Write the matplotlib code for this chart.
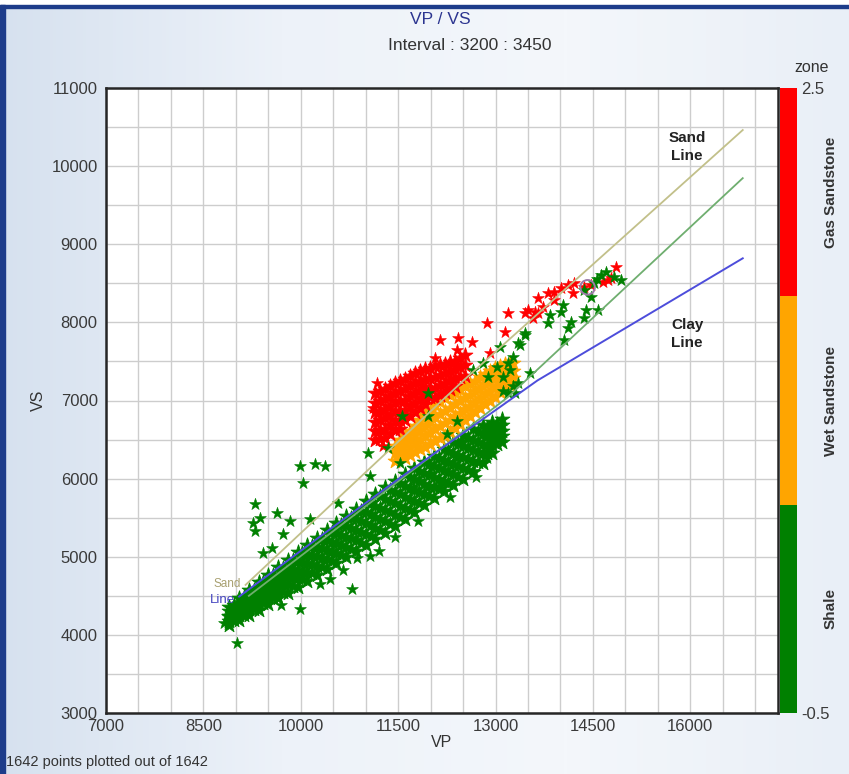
import numpy as np
import matplotlib
matplotlib.use("Agg")
import matplotlib.pyplot as plt
from matplotlib.colors import ListedColormap, BoundaryNorm, LinearSegmentedColormap
from matplotlib.patches import Rectangle
import matplotlib.colorbar as mcolorbar

plt.rcParams['font.family'] = ['Liberation Sans', 'DejaVu Sans']

# ---------------- data ----------------
x_ticks = [7000, 8500, 10000, 11500, 13000, 14500, 16000]
y_ticks = [3000, 4000, 5000, 6000, 7000, 8000, 9000, 10000, 11000]

# Shale (zone 0) dense band: VP column -> VS values
shale_band = {
    8900: [4122, 4182, 4242, 4302, 4362],
    8975: [4188, 4253, 4318, 4383],
    9050: [4187, 4257, 4327, 4397, 4467],
    9125: [4257, 4332, 4407, 4482],
    9200: [4252, 4332, 4412, 4492, 4572],
    9275: [4328, 4412, 4496, 4580],
    9350: [4321, 4408, 4496, 4584, 4671],
    9425: [4402, 4494, 4585, 4676],
    9500: [4391, 4486, 4581, 4676, 4771],
    9575: [4478, 4575, 4673, 4770],
    9650: [4466, 4566, 4666, 4766, 4866],
    9725: [4554, 4657, 4759, 4862],
    9800: [4541, 4646, 4751, 4856, 4961],
    9875: [4632, 4739, 4847, 4954],
    9950: [4615, 4725, 4835, 4945, 5055],
    10025: [4709, 4822, 4934, 5047],
    10100: [4690, 4805, 4920, 5035, 5150],
    10175: [4787, 4904, 5022, 5139],
    10250: [4765, 4885, 5005, 5125, 5245],
    10325: [4863, 4986, 5108, 5231],
    10400: [4840, 4965, 5090, 5215, 5340],
    10475: [4943, 5069, 5195, 5321],
    10550: [4919, 5047, 5174, 5302, 5429],
    10625: [5023, 5152, 5282, 5411],
    10700: [4999, 5129, 5259, 5389, 5519],
    10775: [5103, 5236, 5368, 5501],
    10850: [5074, 5209, 5344, 5479, 5614],
    10925: [5180, 5317, 5455, 5592],
    11000: [5149, 5289, 5429, 5569, 5709],
    11075: [5260, 5401, 5542, 5683],
    11150: [5228, 5371, 5513, 5656, 5798],
    11225: [5340, 5484, 5628, 5772],
    11300: [5308, 5453, 5598, 5743, 5888],
    11375: [5423, 5568, 5714, 5859],
    11450: [5393, 5538, 5683, 5828, 5973],
    11525: [5509, 5653, 5797, 5941],
    11600: [5483, 5626, 5768, 5911, 6053],
    11675: [5599, 5740, 5881, 6022],
    11750: [5572, 5712, 5852, 5992, 6132],
    11825: [5687, 5826, 5965, 6104],
    11900: [5662, 5800, 5937, 6075, 6212],
    11975: [5776, 5912, 6048, 6184],
    12050: [5752, 5887, 6022, 6157, 6292],
    12125: [5862, 5997, 6132, 6267],
    12200: [5837, 5972, 6107, 6242, 6377],
    12275: [5945, 6081, 6217, 6353],
    12350: [5916, 6054, 6191, 6329, 6466],
    12425: [6026, 6165, 6304, 6443],
    12500: [5996, 6136, 6276, 6416, 6556],
    12575: [6113, 6250, 6388, 6525],
    12650: [6091, 6226, 6361, 6496, 6631],
    12725: [6212, 6339, 6467, 6594],
    12800: [6206, 6326, 6446, 6566, 6686],
    12875: [6323, 6433, 6543, 6653],
    12950: [6330, 6430, 6530, 6630, 6730],
    13025: [6442, 6529, 6617, 6704],
    13100: [6465, 6540, 6615, 6690, 6765],
}
shale_vp = [9991, 10223, 10377, 10038, 9298, 9637, 9375, 9267, 9298, 9837, 10146, 9729,
            9560, 9421, 10577, 11040, 11071, 10870, 11071, 10793, 9991, 8881, 9020,
            11533, 11348, 11965, 11965, 11564, 12412, 12659, 12813, 13075, 13338, 13461,
            13029, 12890, 13230, 13261, 13184, 12921, 12967, 12875, 12644, 12659, 12412,
            12490, 12258, 11996, 12150, 11919, 11733,
            14617, 14818, 14926, 14510, 14355, 14463, 14032, 14001, 13846, 13800, 14155,
            14386, 14571, 14355, 14109, 14047, 13461, 13384, 13276, 13199, 13122, 13538,
            13353, 13307, 13122, 14700, 14560, 8820, 8860,
            10300, 10650, 11200, 11450, 11800, 12300, 12700, 10450, 9700]
shale_vs = [6167, 6193, 6167, 5949, 5680, 5564, 5500, 5436, 5334, 5462, 5487, 5295,
            5116, 5052, 5693, 6334, 6039, 4987, 5013, 4590, 4334, 4141, 3898,
            6205, 6398, 7090, 6808, 6808, 6744, 7385, 7474, 7680, 7731, 7859,
            7423, 7295, 7385, 7192, 7090, 6654, 6487, 6269, 6231, 6103, 6269,
            6487, 6577, 6077, 5910, 5808, 5885,
            8603, 8577, 8539, 8500, 8410, 8321, 8218, 8128, 8090, 7987, 8000,
            8154, 8154, 8051, 7923, 7769, 7833, 7705, 7551, 7474, 7295, 7346,
            7218, 7090, 7128, 8640, 8560, 4150, 4240,
            4650, 4830, 5080, 5250, 5460, 5760, 6020, 4720, 4380]

# Wet Sandstone (zone 1) cloud: VP column -> VS values
wet_cloud = {
    11456: [6420, 6330, 6230],
    11533: [6490, 6390, 6290],
    11611: [6550, 6450, 6350, 6260],
    11688: [6610, 6505, 6400, 6300],
    11765: [6680, 6570, 6450, 6340],
    11842: [6745, 6625, 6495, 6375],
    11919: [6810, 6680, 6540, 6410],
    11996: [6870, 6730, 6585, 6445],
    12073: [6940, 6790, 6630, 6480],
    12150: [6985, 6830, 6670, 6515],
    12228: [7030, 6870, 6710, 6550],
    12305: [7065, 6910, 6755, 6600],
    12382: [7100, 6950, 6800, 6650],
    12459: [7140, 6990, 6845, 6700],
    12536: [7180, 7030, 6890, 6750],
    12613: [7215, 7075, 6935, 6800],
    12690: [7250, 7120, 6980, 6850],
    12767: [7295, 7165, 7030, 6900],
    12844: [7340, 7210, 7080, 6950],
    12921: [7375, 7250, 7125, 7000],
    12998: [7410, 7290, 7170, 7050],
    13075: [7440, 7330, 7220, 7110],
    13153: [7470, 7370, 7270, 7170],
    13215: [7475, 7375, 7280, 7200],
    13276: [7480, 7380, 7290],
}

# Gas Sandstone (zone 2) cloud: VP column -> VS values
gas_cloud = {
    11148: [7090, 6970, 6850, 6730, 6610, 6490],
    11225: [7120, 6995, 6870, 6750, 6625, 6505],
    11302: [7150, 7020, 6890, 6770, 6640, 6520],
    11379: [7185, 7060, 6935, 6815, 6690, 6570],
    11456: [7220, 7100, 6980, 6860, 6740, 6620],
    11533: [7250, 7125, 6995, 6870, 6745, 6640],
    11611: [7280, 7150, 7010, 6880, 6750],
    11688: [7315, 7185, 7055, 6925, 6800],
    11765: [7350, 7220, 7100, 6970, 6850],
    11842: [7375, 7250, 7135, 7015, 6900],
    11919: [7400, 7280, 7170, 7060, 6950],
    11996: [7420, 7290, 7165, 7045],
    12073: [7440, 7300, 7160, 7030],
    12150: [7455, 7325, 7195, 7070],
    12228: [7470, 7350, 7230, 7110],
    12305: [7490, 7375, 7260, 7150],
    12382: [7510, 7400, 7290, 7190],
    12459: [7545, 7425, 7305],
    12536: [7580, 7450, 7320],
}
gas_vp = [12073, 12412, 12644, 12875, 13153, 13184, 13461, 13646, 13723, 12150, 12428, 12921,
          13492, 13615, 13661, 13800, 13893, 14001, 14109, 14201, 14186, 14355, 14463,
          14648, 14725, 14849, 14772, 13893, 13584, 11110, 11180, 11260]
gas_vs = [7539, 7641, 7744, 7987, 7872, 8115, 8115, 8115, 8192, 7769, 7795, 7603,
          8154, 8128, 8308, 8372, 8385, 8436, 8474, 8500, 8372, 8449, 8474,
          8513, 8539, 8705, 8564, 8282, 8051, 6900, 7230, 6420]

# highlighted (circled) sample
sel_vp, sel_vs = [14417], [8449]

# trend lines
sand_vp = [9150, 12505, 16807]
sand_vs = [4640, 7256, 10462]
wet_vp = [9200, 13184, 16807]
wet_vs = [4500, 7039, 9846]
clay_vp = [9050, 10250, 11533, 13646, 16807]
clay_vs = [4490, 5230, 6013, 7257, 8820]

zone_colors = ['#008000', '#ffa500', '#ff0000']
zone_names = ['Shale', 'Wet Sandstone', 'Gas Sandstone']


def expand(cols):
    xs, ys = [], []
    for vp, vss in cols.items():
        for v in vss:
            xs.append(vp)
            ys.append(v)
    return xs, ys


# ---------------- figure ----------------
W, H = 849, 774
fig = plt.figure(figsize=(W / 100, H / 100), dpi=100)

bg = fig.add_axes([0, 0, 1, 1], zorder=-10)
bg.axis('off')
gcm = LinearSegmentedColormap.from_list('bg', ['#d6e1ef', '#edf2f9', '#f4f7fb', '#e9eff7'])
bg.imshow(np.linspace(0, 1, 256)[None, :], aspect='auto', cmap=gcm, extent=[0, 1, 0, 1])
bg.set_xlim(0, 1)
bg.set_ylim(0, 1)
bg.add_patch(Rectangle((0, 1 - 5 / H), 1, 5 / H, color='white'))
bg.add_patch(Rectangle((0, 1 - 8 / H), 1, 3 / H, color='#1d3c8a'))
bg.add_patch(Rectangle((0, 0), 5 / W, 1 - 5 / H, color='#1d3c8a'))

ax = fig.add_axes([106 / W, 61 / H, 672 / W, 625 / H])
ax.set_facecolor('white')
ax.set_xlim(7000, 17350)
ax.set_ylim(3000, 11000)
ax.set_xticks(x_ticks)
ax.set_yticks(y_ticks)
ax.set_xticks(np.arange(7000, 17350, 500), minor=True)
ax.set_yticks(np.arange(3000, 11001, 500), minor=True)
ax.grid(which='both', color='#cdcdcd', lw=1.0)
ax.set_axisbelow(True)
ax.tick_params(which='both', length=0)
ax.tick_params(axis='both', labelsize=12, colors='#3a3a3a')
ax.tick_params(axis='x', pad=4)
ax.tick_params(axis='y', pad=6)
for sp in ax.spines.values():
    sp.set_linewidth(1.8)
    sp.set_color('#262626')

bx, by = expand(shale_band)
ax.scatter(bx, by, marker='*', s=125, color=zone_colors[0], linewidths=0.6, zorder=2)
wx, wy = expand(wet_cloud)
ax.scatter(wx, wy, marker='*', s=125, color=zone_colors[1], linewidths=0.6, zorder=3)
gx, gy = expand(gas_cloud)
ax.scatter(gx, gy, marker='*', s=125, color=zone_colors[2], linewidths=0.6, zorder=3)
ax.scatter(gas_vp, gas_vs, marker='*', s=80, color=zone_colors[2], linewidths=0.4, zorder=3)
ax.scatter(shale_vp, shale_vs, marker='*', s=80, color=zone_colors[0], linewidths=0.4, zorder=4)
ax.scatter(sel_vp, sel_vs, marker='o', s=110, facecolors='none', edgecolors='#9c7aa8',
           linewidths=1.4, zorder=6)

ax.plot(sand_vp, sand_vs, color='#c2c08a', lw=1.3, zorder=5)
ax.plot(wet_vp, wet_vs, color='#6fae6f', lw=1.3, zorder=5)
ax.plot(clay_vp, clay_vs, color='#4d4ddb', lw=1.4, zorder=5)

ax.text(8660, 4650, 'Sand', color='#a8a070', fontsize=8.5, ha='left', va='center', zorder=1)
ax.text(8600, 4450, 'Line', color='#4545c0', fontsize=9.5, ha='left', va='center', zorder=6)
ax.text(15950, 10240, 'Sand\nLine', fontsize=11, fontweight='bold', color='#222222',
        ha='center', va='center', linespacing=1.35, zorder=6)
ax.text(15950, 7850, 'Clay\nLine', fontsize=11, fontweight='bold', color='#222222',
        ha='center', va='center', linespacing=1.35, zorder=6)

ax.set_xlabel('VP', fontsize=11.5, color='#333333', labelpad=1)
ax.set_ylabel('VS', fontsize=11.5, color='#333333', labelpad=4)

fig.text(440 / W, 1 - 19 / H, 'VP / VS', ha='center', va='center', fontsize=12.5, color='#2c3590')
fig.text(470 / W, 1 - 46 / H, 'Interval : 3200 : 3450', ha='center', va='center',
         fontsize=12.5, color='#333333')
fig.text(812 / W, 1 - 68 / H, 'zone', ha='center', va='center', fontsize=11.5, color='#333333')
fig.text(6 / W, 1 - 762 / H, '1642 points plotted out of 1642', ha='left', va='center',
         fontsize=10.5, color='#333333')

# colorbar
cax = fig.add_axes([780 / W, 61 / H, 17 / W, 625 / H])
cmap = ListedColormap(zone_colors)
norm = BoundaryNorm([-0.5, 0.5, 1.5, 2.5], cmap.N)
cb = mcolorbar.ColorbarBase(cax, cmap=cmap, norm=norm, orientation='vertical')
cb.outline.set_visible(False)
cb.set_ticks([-0.5, 2.5])
cb.set_ticklabels(['-0.5', '2.5'])
cax.minorticks_off()
cax.tick_params(which='both', length=0, labelsize=12, colors='#3a3a3a', pad=3)
for val, name in zip([0, 1, 2], zone_names):
    cax.text(3.0, val, name, transform=cax.get_yaxis_transform(), rotation=90,
             ha='center', va='center', fontsize=11, fontweight='bold', color='#333333')

fig.savefig('out.png', dpi=100)
